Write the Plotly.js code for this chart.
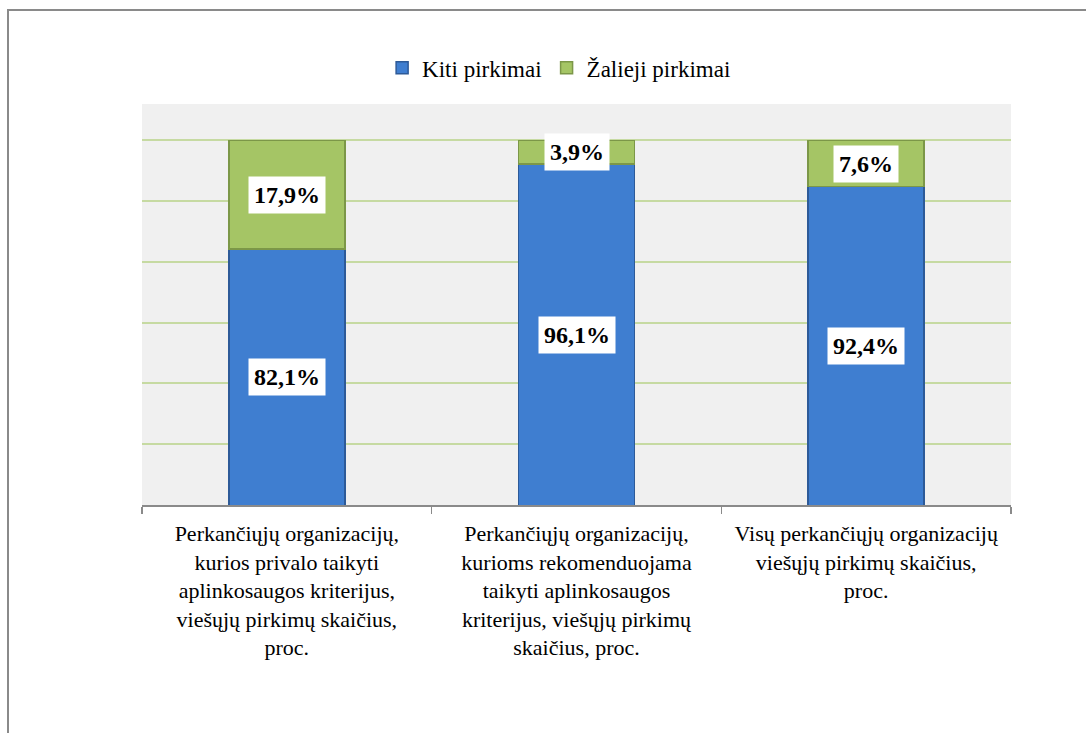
<!DOCTYPE html>
<html>
<head>
<meta charset="utf-8">
<script src="https://cdn.plot.ly/plotly-3.0.1.min.js"></script>
<style>
  html, body { margin: 0; padding: 0; background: #ffffff; }
  #wrap { position: relative; width: 1086px; height: 733px; }
  #chart { position: absolute; left: 0; top: 0; width: 1086px; height: 733px; }
  #frame { position: absolute; left: 7px; top: 9px; width: 1079px; height: 724px;
           border-left: 2px solid #8a8a8a; border-top: 2px solid #8a8a8a; pointer-events: none; }
</style>
</head>
<body>
<div id="wrap">
  <div id="chart"></div>
  <div id="frame"></div>
</div>
<script>
const categories = [
  "Perkančiųjų organizacijų,<br>kurios privalo taikyti<br>aplinkosaugos kriterijus,<br>viešųjų pirkimų skaičius,<br>proc.",
  "Perkančiųjų organizacijų,<br>kurioms rekomenduojama<br>taikyti aplinkosaugos<br>kriterijus, viešųjų pirkimų<br>skaičius, proc.",
  "Visų perkančiųjų organizacijų<br>viešųjų pirkimų skaičius,<br>proc."
];
const kiti = [82.1, 96.1, 92.4];
const zalieji = [17.9, 3.9, 7.6];
const seriesNames = ["Kiti pirkimai", "Žalieji pirkimai"];
const yMin = 40, yMax = 106;

const SERIF = 'Liberation Serif';

function fmt(v) { return v.toFixed(1).replace('.', ',') + '%'; }

const traces = [
  {
    type: 'bar', name: seriesNames[0], x: categories, y: kiti,
    marker: { color: '#3f7ed0', line: { color: '#2d5a98', width: 1.5 } },
    width: 0.4, hoverinfo: 'skip'
  },
  {
    type: 'bar', name: seriesNames[1], x: categories, y: zalieji,
    marker: { color: '#a5c565', line: { color: '#7c9748', width: 1.5 } },
    width: 0.4, hoverinfo: 'skip'
  }
];

const labelFont = { family: SERIF, size: 24, color: '#000000' };
const annotations = [];
categories.forEach((c, i) => {
  annotations.push({
    x: c, y: (Math.max(yMin, 0) + kiti[i]) / 2, xref: 'x', yref: 'y',
    text: '<b>' + fmt(kiti[i]) + '</b>', showarrow: false,
    font: labelFont, bgcolor: '#ffffff', borderpad: 5
  });
  annotations.push({
    x: c, y: kiti[i] + zalieji[i] / 2, xref: 'x', yref: 'y',
    text: '<b>' + fmt(zalieji[i]) + '</b>', showarrow: false,
    font: labelFont, bgcolor: '#ffffff', borderpad: 5
  });
});

const layout = {
  width: 1086, height: 733,
  margin: { l: 142, r: 75, t: 104, b: 228 },
  paper_bgcolor: '#ffffff',
  plot_bgcolor: '#f0f0f0',
  barmode: 'stack',
  showlegend: true,
  font: { family: SERIF },
  legend: {
    orientation: 'h', x: 0.48, xanchor: 'center', y: 1.09, yanchor: 'middle',
    traceorder: 'normal',
    font: { family: SERIF, size: 23, color: '#000000' }
  },
  xaxis: {
    type: 'category',
    tickson: 'boundaries',
    ticks: 'outside', ticklen: 7, tickcolor: '#8a8a8a', tickwidth: 1.5,
    showline: true, linecolor: '#8a8a8a', linewidth: 1.5,
    showgrid: false,
    ticklabelstandoff: 8,
    tickfont: { family: SERIF, size: 22, color: '#000000' },
    fixedrange: true
  },
  yaxis: {
    range: [yMin, yMax],
    tickvals: [50, 60, 70, 80, 90, 100],
    showticklabels: false,
    showgrid: true, gridcolor: '#c6daa2', gridwidth: 2,
    zeroline: false, showline: false,
    fixedrange: true
  },
  annotations: annotations
};

Plotly.newPlot('chart', traces, layout, { displayModeBar: false, staticPlot: true });
</script>
</body>
</html>
